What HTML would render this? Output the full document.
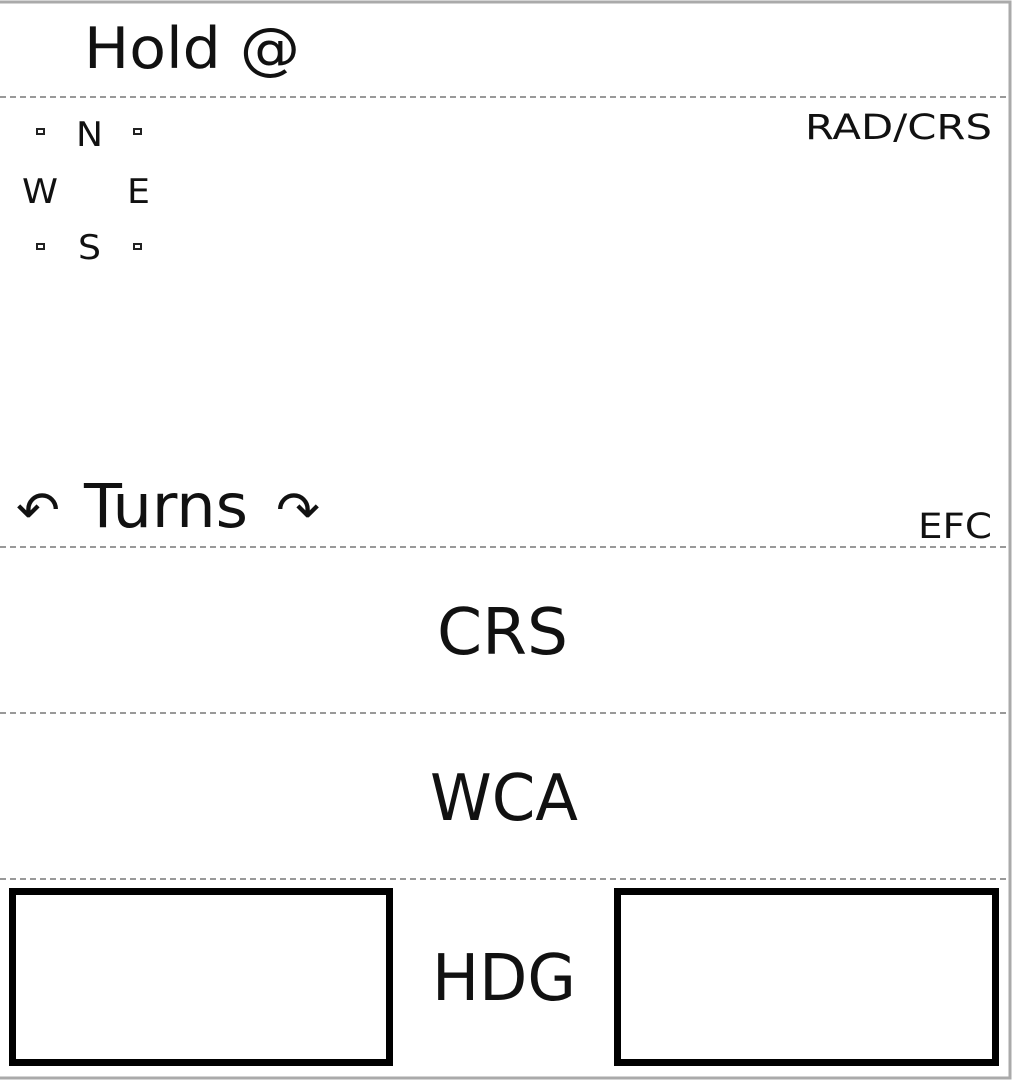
<!DOCTYPE html>
<html><head><meta charset="utf-8"><style>
html,body{margin:0;padding:0;background:#fff;width:1020px;height:1085px;overflow:hidden}
svg text{font-family:"DejaVu Sans","Liberation Sans",sans-serif;fill:#111}
</style></head><body>
<svg width="1020" height="1085" viewBox="0 0 1020 1085" xmlns="http://www.w3.org/2000/svg">
<rect x="-5" y="2" width="1015" height="1076" fill="#fff" stroke="#aaa" stroke-width="3"/>
<g stroke="#999" stroke-width="2" stroke-dasharray="6,4">
<line x1="0" y1="97" x2="1010" y2="97"/>
<line x1="0" y1="547" x2="1010" y2="547"/>
<line x1="0" y1="713" x2="1010" y2="713"/>
<line x1="0" y1="879" x2="1010" y2="879"/>
</g>
<text x="84" y="68" font-size="57" textLength="216" lengthAdjust="spacingAndGlyphs">Hold @</text>
<g font-size="34">
<text x="76" y="146" textLength="27" lengthAdjust="spacingAndGlyphs">N</text>
<text x="22" y="203" textLength="36" lengthAdjust="spacingAndGlyphs">W</text>
<text x="127" y="203" textLength="23" lengthAdjust="spacingAndGlyphs">E</text>
<text x="78" y="259" textLength="23" lengthAdjust="spacingAndGlyphs">S</text>
</g>
<g fill="none" stroke="#222" stroke-width="2">
<rect x="37" y="129" width="7" height="5"/><rect x="134" y="129" width="7" height="5"/>
<rect x="37" y="244" width="7" height="5"/><rect x="134" y="244" width="7" height="5"/>
</g>
<text x="805" y="139" font-size="35" textLength="187" lengthAdjust="spacingAndGlyphs">RAD/CRS</text>
<text x="16" y="528" font-size="52" textLength="44" lengthAdjust="spacingAndGlyphs">↶</text>
<text x="84" y="527" font-size="61" textLength="164" lengthAdjust="spacingAndGlyphs">Turns</text>
<text x="276" y="528" font-size="52" textLength="44" lengthAdjust="spacingAndGlyphs">↷</text>
<text x="918" y="538" font-size="35" textLength="74" lengthAdjust="spacingAndGlyphs">EFC</text>
<text x="437" y="654" font-size="64" textLength="131" lengthAdjust="spacingAndGlyphs">CRS</text>
<text x="430" y="820" font-size="64" textLength="148" lengthAdjust="spacingAndGlyphs">WCA</text>
<text x="432" y="1000" font-size="64" textLength="144" lengthAdjust="spacingAndGlyphs">HDG</text>
<rect x="12.5" y="891.5" width="377" height="171" fill="none" stroke="#000" stroke-width="7"/>
<rect x="617.5" y="891.5" width="378" height="171" fill="none" stroke="#000" stroke-width="7"/>
</svg>
</body></html>
